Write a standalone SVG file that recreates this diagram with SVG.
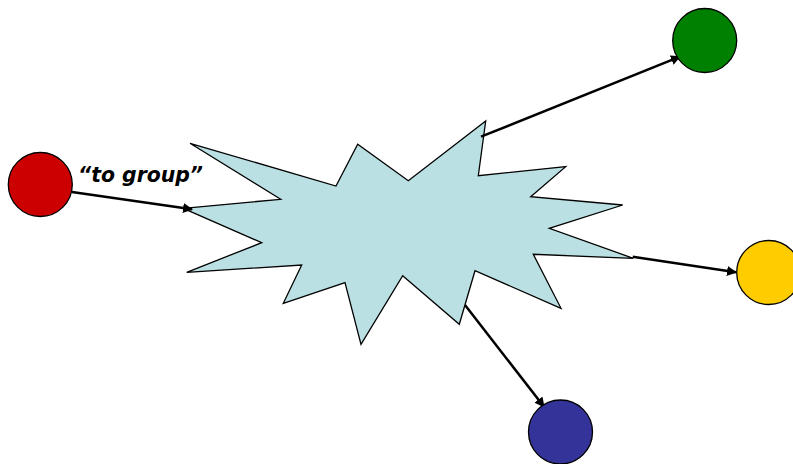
<svg xmlns="http://www.w3.org/2000/svg" width="793" height="464" viewBox="0 0 793 464">
<style>
.node{stroke:#000;stroke-width:1.3}
.conn{stroke:#000;stroke-width:2.5;fill:none;marker-end:url(#ah)}
.lbl{font-family:"DejaVu Sans",Verdana,sans-serif;font-weight:bold;font-style:italic;font-size:21px;fill:#000}
</style>
<defs>
<marker id="ah" viewBox="0 0 10 10" refX="9" refY="5" markerWidth="4" markerHeight="4" orient="auto" markerUnits="strokeWidth">
<path d="M0,0 L10,5 L0,10 z" fill="#000"/>
</marker>
</defs>
<rect width="793" height="464" fill="#fff"/>
<g id="burst">
<polygon class="node" fill="#BBE0E3" points="190,143.3 336,186 357.7,144.3 408.3,180.7 485.7,121 478.3,175.7 565.7,166.7 530.7,196.7 622.7,205 549.3,228.3 633.3,258.3 533.3,254.3 561,308.3 475,270.7 459.3,324.3 402.7,275.7 361,344.3 345,282.7 283.3,303.3 301.7,265 186.7,272.3 261.7,242.7 183.3,208.3 280.7,199.3"/>
</g>
<g id="connectors">
<line class="conn" x1="72" y1="192" x2="192" y2="209.3"/>
<line class="conn" x1="481" y1="136.7" x2="680" y2="56.7"/>
<line class="conn" x1="632.7" y1="256.7" x2="736" y2="272.3"/>
<line class="conn" x1="465" y1="305" x2="544" y2="406.7"/>
</g>
<g id="red"><circle class="node" cx="40.3" cy="184.5" r="32" fill="#CC0000"/></g>
<g id="green"><circle class="node" cx="704.7" cy="40.5" r="32" fill="#008000"/></g>
<g id="yellow"><circle class="node" cx="768.7" cy="272.5" r="32" fill="#FFCC00"/></g>
<g id="blue"><circle class="node" cx="560.5" cy="432" r="32" fill="#333399"/></g>
<text class="lbl" x="78" y="182" textLength="125" lengthAdjust="spacingAndGlyphs">“to group”</text>
</svg>
